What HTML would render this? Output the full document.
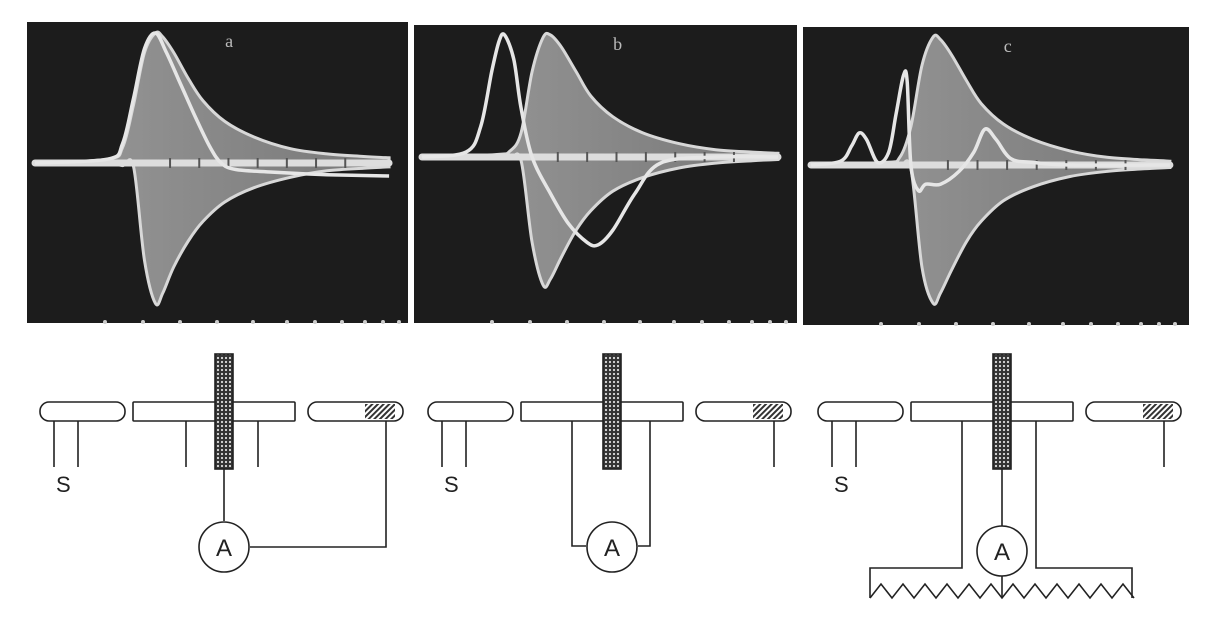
<!DOCTYPE html>
<html><head><meta charset="utf-8"><style>
html,body{margin:0;padding:0;background:#fff;}
svg{display:block;font-family:"Liberation Sans",sans-serif;}
</style></head><body>
<svg id="fig" width="1205" height="618" viewBox="0 0 1205 618">
<defs>
<pattern id="dots" width="4" height="4" patternUnits="userSpaceOnUse"><rect width="4" height="4" fill="#333"/><circle cx="2" cy="2" r="1.1" fill="#ddd"/></pattern>
<pattern id="hatch" width="4" height="4" patternUnits="userSpaceOnUse" patternTransform="rotate(45)"><rect width="4" height="4" fill="#fff"/><rect width="2" height="4" fill="#333"/></pattern>
<linearGradient id="env" x1="0" y1="0" x2="1" y2="0"><stop offset="0" stop-color="#9a9a9a"/><stop offset="1" stop-color="#777"/></linearGradient>
</defs>
<g id="scopes"></g>
<g id="diagrams" stroke="#222" stroke-width="1.6" fill="none"></g>
</svg>
<script>
// Panel frames (layout)
const panelBoxes = [[27,22,381,301],[414,25,383,298],[803,27,386,298]];
const panelLabels = ['a','b','c'];
// Envelope data: time (% of sweep) and amplitude (-1..1)
const envTimes = [0,20,24,27,30,33,35,38,42,46,52,60,70,80,90,97];
const envUpperA = [0,0.03,0.12,0.45,0.85,1.0,0.97,0.85,0.65,0.48,0.32,0.2,0.11,0.07,0.05,0.04];
const envLowerA = [0,-0.01,-0.02,-0.03,-0.75,-1.08,-1.0,-0.8,-0.6,-0.45,-0.3,-0.19,-0.11,-0.06,-0.04,-0.03];
const envUpperB = [0,0.02,0.05,0.2,0.7,0.98,1.0,0.9,0.7,0.5,0.33,0.2,0.11,0.06,0.04,0.03];
const envLowerB = [0,-0.01,-0.01,-0.03,-0.7,-1.05,-1.0,-0.82,-0.6,-0.44,-0.28,-0.17,-0.09,-0.05,-0.03,-0.02];
const envUpperC = [0,0.02,0.06,0.3,0.78,1.0,0.98,0.86,0.66,0.48,0.32,0.2,0.11,0.06,0.04,0.03];
const envLowerC = [0,-0.01,-0.01,-0.03,-0.8,-1.08,-1.0,-0.82,-0.6,-0.44,-0.28,-0.17,-0.09,-0.05,-0.03,-0.02];
// Recorded trace data
const traceTimesA = [0,20,24,27,30,33,36,40,44,48,51,55,65,80,97];
const traceValsA = [0,0.03,0.15,0.5,0.88,1.0,0.85,0.6,0.35,0.12,0.0,-0.05,-0.07,-0.09,-0.1];
const traceTimesB = [0,12,16,19,21,22.5,25,27,30,35,40,45,48,52,58,65,80,97];
const traceValsB = [0,0.04,0.25,0.7,0.95,1.0,0.8,0.4,0.0,-0.3,-0.55,-0.7,-0.72,-0.6,-0.3,-0.05,0.0,0.0];
const traceTimesC = [0,8,11,13,15,18,21,23,25,26,27,29,31,35,40,44,47,50,54,60,70,97];
const traceValsC = [0,0.03,0.15,0.25,0.2,0.02,0.1,0.4,0.7,0.65,0.0,-0.2,-0.15,-0.15,-0.05,0.1,0.28,0.2,0.05,0.02,0.0,0.0];
const baselines = [141,132,138];
const ampScale = [130,122,128];
const dotOffsets = [78,116,153,190,226,260,288,315,338,356,372];

const envs = [[envUpperA,envLowerA],[envUpperB,envLowerB],[envUpperC,envLowerC]];
const traces = [[traceTimesA,traceValsA],[traceTimesB,traceValsB],[traceTimesC,traceValsC]];
const NS='http://www.w3.org/2000/svg';
function mk(tag,attrs,parent){const e=document.createElementNS(NS,tag);for(const k in attrs)e.setAttribute(k,attrs[k]);parent.appendChild(e);return e;}
function smooth(pts){let d='M'+pts[0][0]+','+pts[0][1];for(let i=0;i<pts.length-1;i++){const p0=pts[Math.max(0,i-1)],p1=pts[i],p2=pts[i+1],p3=pts[Math.min(pts.length-1,i+2)];const c1=[p1[0]+(p2[0]-p0[0])/6,p1[1]+(p2[1]-p0[1])/6];const c2=[p2[0]-(p3[0]-p1[0])/6,p2[1]-(p3[1]-p1[1])/6];d+=' C'+c1[0].toFixed(1)+','+c1[1].toFixed(1)+' '+c2[0].toFixed(1)+','+c2[1].toFixed(1)+' '+p2[0].toFixed(1)+','+p2[1].toFixed(1);}return d;}
const scopes=document.getElementById('scopes');
panelBoxes.forEach((b,i)=>{
  const [px,py,pw,ph]=b;
  const xs=t=>px+8+t/100*(pw-16);
  const ys=v=>py+baselines[i]-v*ampScale[i];
  const g=mk('g',{},scopes);
  
  
  mk('rect',{x:px,y:py,width:pw,height:ph,fill:'#1c1c1c'},g);
  const up=envs[i][0].map((v,k)=>[xs(envTimes[k]),ys(v)]);
  const lo=envs[i][1].map((v,k)=>[xs(envTimes[k]),ys(v)]);
  let d=smooth(up);const lr=lo.slice().reverse();d+=' L'+lr[0][0]+','+lr[0][1]+smooth(lr).replace(/^M[^C]*/,' ')+'Z';
  const env=mk('path',{d:d,fill:'url(#env)',stroke:'#d8d8d8','stroke-width':3},g);
  
  
  mk('path',{d:'M'+xs(0)+','+ys(0)+' L'+xs(97)+','+ys(0),stroke:'#ddd','stroke-width':7,'stroke-linecap':'round'},g);
  for(let k=0;k<7;k++)mk('line',{x1:xs(37+k*8),y1:ys(0)-5,x2:xs(37+k*8),y2:ys(0)+5,stroke:'#555','stroke-width':2},g);
  const tp=traces[i][1].map((v,k)=>[xs(traces[i][0][k]),ys(v)]);
  const tr=mk('path',{d:smooth(tp),fill:'none',stroke:'#e6e6e6','stroke-width':3.5},g);
  
  
  const lab=mk('text',{x:px+pw*0.52,y:py+25,fill:'#bbb','font-size':18,'font-family':'Liberation Serif, serif'},g);lab.textContent=panelLabels[i];
  
  
  dotOffsets.forEach(o=>mk('circle',{cx:px+o,cy:py+ph-1,r:2,fill:'#ccc'},g));
});
// diagrams
const dg=document.getElementById('diagrams');
function rod(g,x1,x2,y,round1){mk('rect',{x:x1,y:y,width:x2-x1,height:19,rx:round1?9:1,fill:'#fff'},g);}
[0,388,778].forEach((ox,i)=>{
  const g=mk('g',{transform:'translate('+ox+',0)'},dg);
  
  
  rod(g,40,125,402,true);rod(g,133,295,402);rod(g,308,403,402,true);
  mk('rect',{x:365,y:404,width:30,height:15,fill:'url(#hatch)',stroke:'none'},g);
  mk('rect',{x:215,y:354,width:18,height:115,fill:'url(#dots)'},g);
  mk('line',{x1:54,y1:421,x2:54,y2:467},g);mk('line',{x1:78,y1:421,x2:78,y2:467},g);
  const s=mk('text',{x:56,y:492,fill:'#222',stroke:'none','font-size':22},g);s.textContent='S';
  
  
  mk('line',{x1:386,y1:421,x2:386,y2:467},g);
  if(i===0){
    mk('line',{x1:186,y1:421,x2:186,y2:467},g);mk('line',{x1:258,y1:421,x2:258,y2:467},g);
    mk('line',{x1:224,y1:469,x2:224,y2:521},g);
    mk('polyline',{points:'250,547 386,547 386,467'},g);
  } else if(i===1){
    mk('polyline',{points:'184,421 184,546 198,546'},g);mk('polyline',{points:'262,421 262,546 250,546'},g);
  } else {
    mk('polyline',{points:'184,421 184,568 92,568 92,598'},g);mk('polyline',{points:'258,421 258,568 354,568 354,598'},g);
    mk('line',{x1:224,y1:469,x2:224,y2:529},g);mk('line',{x1:224,y1:573,x2:224,y2:598},g);
    let z='M92,598';for(let k=0;k<12;k++){const x=92+k*22;z+=' L'+(x+11)+',584 L'+(x+22)+',598';}
    mk('path',{d:z},g);
  }
  const cy=i===2?551:547;
  mk('circle',{cx:224,cy:cy,r:25,fill:'#fff'},g);
  const a=mk('text',{x:224,y:cy+9,'text-anchor':'middle',fill:'#222',stroke:'none','font-size':24},g);a.textContent='A';
  
  
});
</script>
</body></html>
